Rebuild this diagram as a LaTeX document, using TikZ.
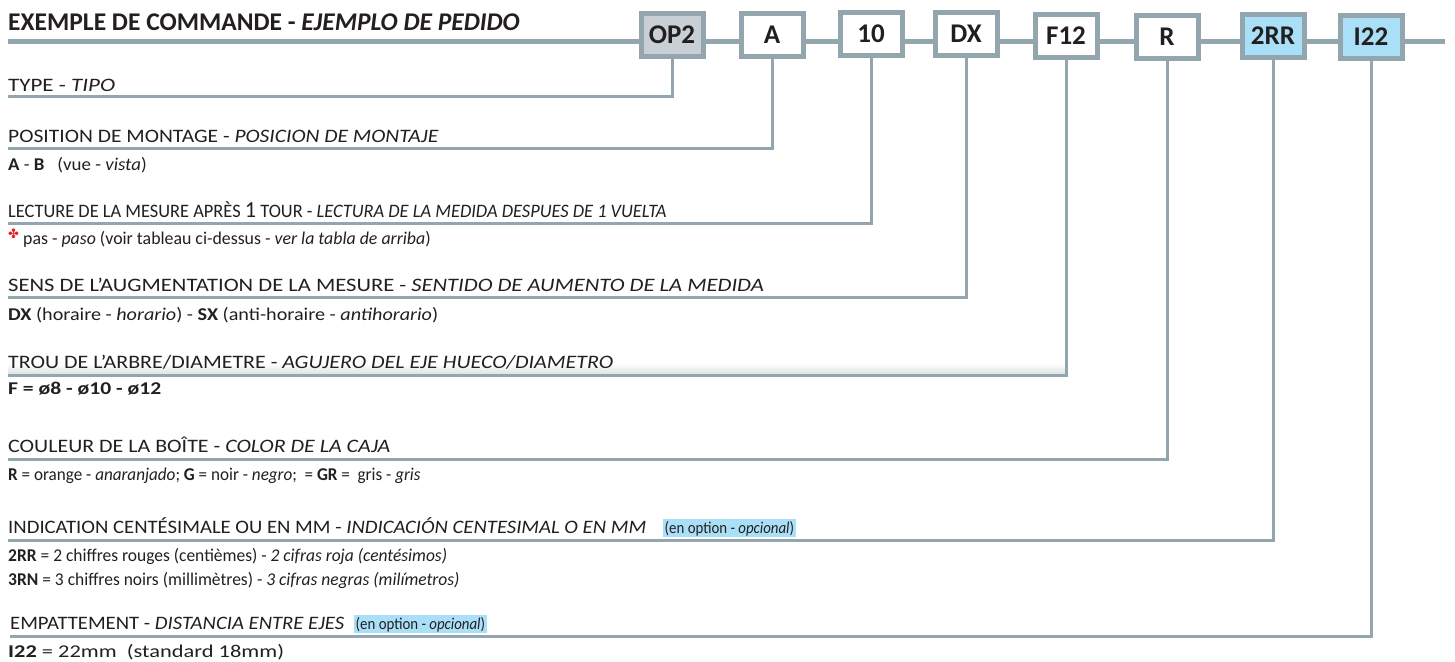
\documentclass[tikz,border=0pt]{standalone}
\usepackage{fontspec}
\usepackage{graphicx}
\setmainfont{Carlito}
\newfontfamily\hdfont{Carlito}[FakeStretch=1.1]
\newfontfamily\symfont{DejaVu Sans}
\definecolor{lc}{RGB}{148,166,173}
\definecolor{opfill}{RGB}{200,207,213}
\definecolor{bluefill}{RGB}{170,223,248}
\definecolor{txt}{RGB}{35,31,32}
\definecolor{clover}{RGB}{230,30,40}
\newcommand{\hdsize}{\hdfont\fontsize{19}{22}\selectfont}
\newcommand{\bdsize}{\fontsize{18}{21}\selectfont}
\newcommand{\hs}[2]{\scalebox{#1}[1]{#2}}
\tikzset{
  codebox/.style={draw=lc, line width=5pt, minimum width=62pt, minimum height=43pt,
    inner sep=0pt, fill=white, font=\fontsize{27}{29}\selectfont\bfseries, text=txt},
  conn/.style={draw=lc, line width=3pt, line join=miter},
  hd/.style={anchor=base west, inner sep=0pt, font=\hdsize, text=txt},
  bd/.style={anchor=base west, inner sep=0pt, font=\bdsize, text=txt},
  opt/.style={anchor=base west, inner sep=1.5pt, fill=bluefill, font=\fontsize{16.5}{20}\selectfont, text=txt},
}
\begin{document}
\begin{tikzpicture}[x=1pt,y=-1pt]
\useasboundingbox (0,0) rectangle (1455,661);
% main line
\coordinate (mainL) at (8,42);
\coordinate (mainR) at (1445,42);
\draw[draw=lc, line width=5pt] (mainL) -- (mainR);
\node[anchor=base west, inner sep=0pt, font=\fontsize{25.5}{28}\selectfont\bfseries, text=txt] (title) at (8,31) {EXEMPLE DE COMMANDE - \textit{EJEMPLO DE PEDIDO}};
% code boxes
\node[codebox, fill=opfill] (op2) at (672,35) {OP2};
\node[codebox] (bA) at (772,35) {A};
\node[codebox] (b10) at (871,34) {10};
\node[codebox] (bDX) at (966,34) {DX};
\node[codebox] (bF) at (1066,36) {F12};
\node[codebox] (bR) at (1167,37) {R};
\node[codebox, fill=bluefill] (b2RR) at (1273,36) {2RR};
\node[codebox, fill=bluefill] (bI) at (1371,37) {I22};
% end points of connectors
\coordinate (e1) at (8,96);
\coordinate (e2) at (8,148);
\coordinate (e3) at (8,223);
\coordinate (e4) at (8,297);
\coordinate (e5) at (8,375);
\coordinate (e6) at (8,459);
\coordinate (e7) at (8,540);
\coordinate (e8) at (10,636);
% gradient band for TROU
\shade[top color=white, bottom color=lc!35, middle color=white] (8,352) rectangle (1066,375);
\draw[conn] (op2.south) |- (e1);
\draw[conn] (bA.south) |- (e2);
\draw[conn] (b10.south) |- (e3);
\draw[conn] (bDX.south) |- (e4);
\draw[conn] (bF.south) |- (e5);
\draw[conn] (bR.south) |- (e6);
\draw[conn] (b2RR.south) |- (e7);
\draw[conn] (bI.south) |- (e8);
% headings
\node[hd] (h1) at (8,91) {\hs{1.1}{TYPE - \textit{TIPO}}};
\node[hd] (h2) at (8,142) {\hs{1.03}{POSITION DE MONTAGE - \textit{POSICION DE MONTAJE}}};
\node[hd] (h3) at (8,217) {\hs{0.88}{LECTURE DE LA MESURE APRÈS {\fontsize{23}{24}\selectfont 1} TOUR - \textit{LECTURA DE LA MEDIDA DESPUES DE 1 VUELTA}}};
\node[hd] (h4) at (8,291) {\hs{1.08}{SENS DE L’AUGMENTATION DE LA MESURE - \textit{SENTIDO DE AUMENTO DE LA MEDIDA}}};
\node[hd] (h5) at (8,368) {\hs{1.05}{TROU DE L’ARBRE/DIAMETRE - \textit{AGUJERO DEL EJE HUECO/DIAMETRO}}};
\node[hd] (h6) at (8,452) {\hs{1.05}{COULEUR DE LA BOÎTE - \textit{COLOR DE LA CAJA}}};
\node[hd] (h7) at (8,533) {\hs{0.99}{INDICATION CENTÉSIMALE OU EN MM - \textit{INDICACIÓN CENTESIMAL O EN MM}}};
\node[opt] (o7) at (663,533) {\hs{0.9}{(en option - \textit{opcional})}};
\node[hd] (h8) at (10,629) {\hs{0.99}{EMPATTEMENT - \textit{DISTANCIA ENTRE EJES}}};
\node[opt] (o8) at (354,629) {\hs{0.9}{(en option - \textit{opcional})}};
% body lines
\node[bd] (t2) at (8,170) {\hs{1.05}{\textbf{A} - \textbf{B}\ \ \ (vue - \textit{vista})}};
\node[bd] (t3) at (8,244) {\raisebox{6pt}{\fontsize{13}{13}\selectfont\symfont\color{clover}✤}\ \hs{0.99}{pas - \textit{paso} (voir tableau ci-dessus - \textit{ver la tabla de arriba})}};
\node[bd] (t4) at (8,320) {\hs{1.12}{\textbf{DX} (horaire - \textit{horario}) - \textbf{SX} (anti-horaire - \textit{antihorario})}};
\node[bd] (t5) at (8,394) {\hs{1.2}{\textbf{F = ø8 - ø10 - ø12}}};
\node[bd] (t6) at (8,480) {\hs{0.95}{\textbf{R} = orange - \textit{anaranjado}; \textbf{G} = noir - \textit{negro};\ \ = \textbf{GR} =\ \ gris - \textit{gris}}};
\node[bd] (t7a) at (8,561) {\hs{0.97}{\textbf{2RR} = 2 chiffres rouges (centièmes) - \textit{2 cifras roja (centésimos)}}};
\node[bd] (t7b) at (8,585) {\hs{0.97}{\textbf{3RN} = 3 chiffres noirs (millimètres) - \textit{3 cifras negras (milímetros)}}};
\node[bd] (t8) at (8,657) {\hs{1.245}{\textbf{I22} = 22mm\ \ (standard 18mm)}};
\end{tikzpicture}
\end{document}
